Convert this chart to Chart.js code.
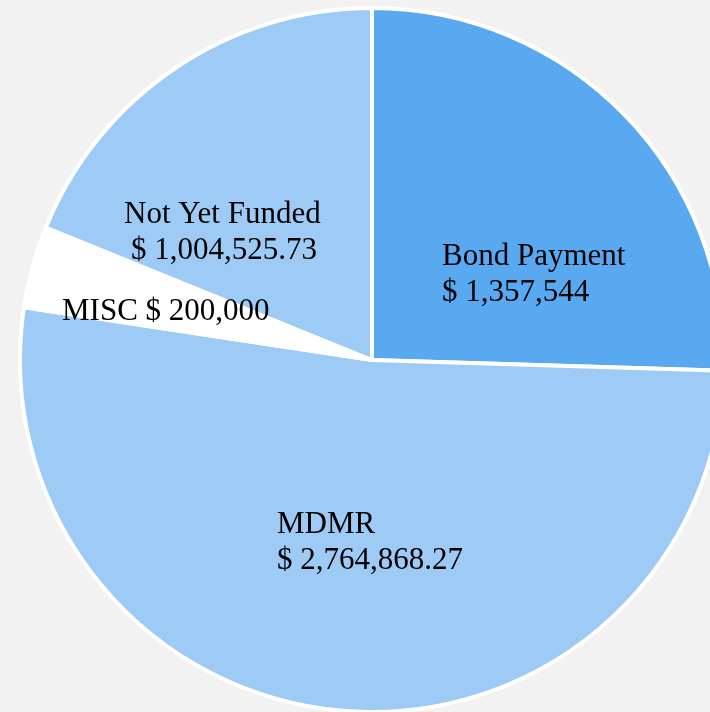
<!DOCTYPE html>
<html>
<head>
<meta charset="utf-8">
<script src="https://cdn.jsdelivr.net/npm/chart.js@4"></script>
<style>
  html, body { margin: 0; padding: 0; width: 710px; height: 712px; overflow: hidden; background: #f2f2f2; }
  #wrap { position: absolute; left: 0; top: 0; width: 744px; height: 720px; }
</style>
</head>
<body>
<div id="wrap"><canvas id="budgetPie"></canvas></div>
<script>
// budget pie - slices clockwise from 12 o'clock
const categories = ['Bond Payment', 'MDMR', 'MISC', 'Not Yet Funded'];
const amounts = [1357544, 2764868.27, 200000, 1004525.73];
const amountLabels = ['$ 1,357,544', '$ 2,764,868.27', '$ 200,000', '$ 1,004,525.73'];
const sliceColors = ['#59a9f1', '#9dcbf6', '#ffffff', '#9dcbf6'];

// label placement relative to pie centre: [dx, dy, line2 indent, single line]
const labelPlacement = [
    [70, -95, 0, false],
    [-95, 173, 0, false],
    [-310, -40, 0, true],
    [-248, -137, 7, false]
];

const sliceLabels = {
    id: 'sliceLabels',
    afterDatasetsDraw(chart) {
        const ctx = chart.ctx;
        const arcs = chart.getDatasetMeta(0).data;
        ctx.save();
        ctx.fillStyle = '#000';
        ctx.font = '31px "Liberation Serif", serif';
        ctx.textAlign = 'left';
        ctx.textBaseline = 'alphabetic';
        arcs.forEach((arc, i) => {
            const [dx, dy, indent, single] = labelPlacement[i];
            const x = arc.x + dx;
            const y = arc.y + dy;
            if (single) {
                ctx.fillText(categories[i] + ' ' + amountLabels[i], x, y);
            } else {
                ctx.fillText(categories[i], x, y);
                ctx.fillText(amountLabels[i], x + indent, y + 36);
            }
        });
        ctx.restore();
    }
};

const ctx = document.getElementById('budgetPie');
new Chart(ctx, {
    type: 'pie',
    data: {
        labels: categories,
        datasets: [{
            data: amounts,
            backgroundColor: sliceColors,
            borderColor: '#ffffff',
            borderWidth: 4,
            radius: 352
        }]
    },
    options: {
        responsive: true,
        maintainAspectRatio: false,
        animation: false,
        layout: { padding: 0 },
        plugins: {
            legend: { display: false },
            tooltip: { enabled: false }
        }
    },
    plugins: [sliceLabels]
});
</script>
</body>
</html>
